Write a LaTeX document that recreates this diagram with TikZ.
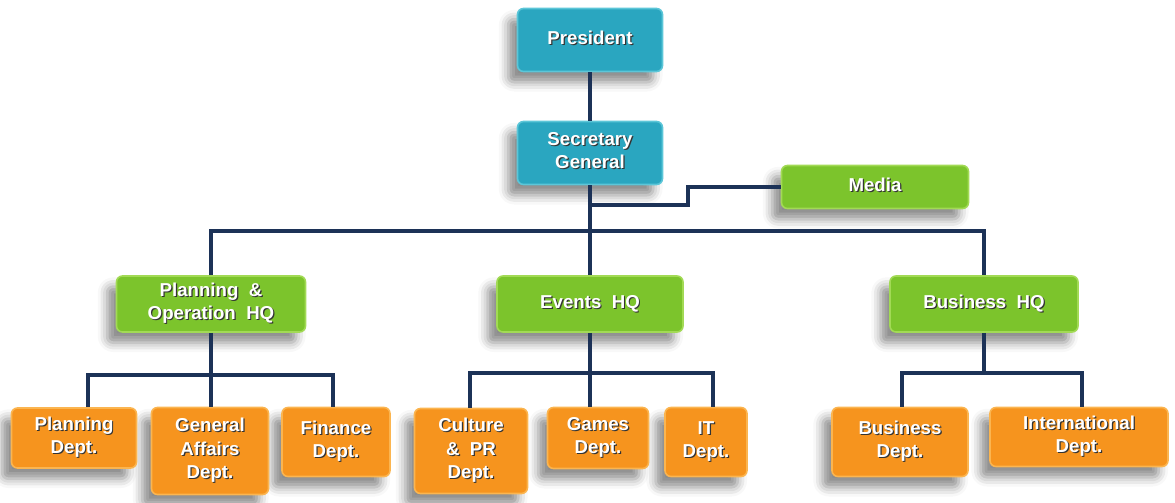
\documentclass[tikz,border=0pt]{standalone}
\usepackage{fontspec}
\setmainfont{Liberation Sans}
\usetikzlibrary{shadows.blur}
\definecolor{tealfill}{HTML}{2AA6C0}
\definecolor{tealedge}{HTML}{5CC6D8}
\definecolor{greenfill}{HTML}{7CC42C}
\definecolor{greenedge}{HTML}{A2DA55}
\definecolor{orangefill}{HTML}{F6941E}
\definecolor{orangeedge}{HTML}{FBB550}
\definecolor{navy}{HTML}{1C3257}
\newcommand\shtxt[1]{\makebox[0pt][l]{\hspace{0.9pt}\raisebox{-0.9pt}{\color{black!80}\begin{tabular}{@{}c@{}}#1\end{tabular}}}\begin{tabular}{@{}c@{}}#1\end{tabular}}
\tikzset{
  base/.style={rounded corners=4.5pt, line width=1.2pt, text=white, inner sep=0pt,
    font=\fontsize{14}{17.5}\selectfont\bfseries,
    blur shadow={shadow xshift=-7pt, shadow yshift=-8pt, shadow blur radius=7pt, shadow opacity=45}},
  tbox/.style={base, fill=tealfill, draw=tealedge},
  gbox/.style={base, fill=greenfill, draw=greenedge},
  obox/.style={base, fill=orangefill, draw=orangeedge},
  sz/.style 2 args={minimum width=#1*0.75pt, minimum height=#2*0.75pt},
  conn/.style={draw=navy, line width=2.7pt}
}
\begin{document}
\begin{tikzpicture}[x=0.75pt,y=-0.75pt]
\useasboundingbox (0,0) rectangle (1175,503);
% nodes (right to left, so that shadows fall behind neighbours)
\node[tbox, sz={145}{63}] (pres) at (590,40) {\shtxt{President}};
\node[gbox, sz={187}{43}] (media) at (875,187) {\shtxt{Media}};
\node[tbox, sz={145}{63}] (sg) at (590,153) {\shtxt{Secretary\\General}};
\node[gbox, sz={188}{56}] (bh) at (984,304) {\shtxt{Business~~HQ}};
\node[gbox, sz={186}{56}] (ev) at (590,304) {\shtxt{Events~~HQ}};
\node[gbox, sz={189}{56}] (po) at (211,304) {\shtxt{Planning~~\&\\Operation~~HQ}};
\node[obox, sz={178}{59}] (id) at (1079,437) {\shtxt{International\\Dept.}};
\node[obox, sz={136}{69}] (bd) at (900,442) {\shtxt{Business\\Dept.}};
\node[obox, sz={82}{69}] (it) at (706,442) {\shtxt{IT\\Dept.}};
\node[obox, sz={101}{61}] (gm) at (598,438) {\shtxt{Games\\Dept.}};
\node[obox, sz={113}{85}] (cu) at (471,451) {\shtxt{Culture\\\&~~PR\\Dept.}};
\node[obox, sz={108}{69}] (fd) at (336,442) {\shtxt{Finance\\Dept.}};
\node[obox, sz={117}{87}] (ga) at (210,451) {\shtxt{General\\Affairs\\Dept.}};
\node[obox, sz={125}{60}] (pd) at (74,438) {\shtxt{Planning\\Dept.}};
% junction coordinates
\coordinate (bR) at (984,231);
\coordinate (mj) at (590,205);
\coordinate (ms) at (688,205);
\coordinate (a1) at (88,375);
\coordinate (a3) at (333,375);
\coordinate (e1) at (470,373);
\coordinate (e3) at (713,373);
\coordinate (f1) at (902,373);
\coordinate (f3) at (1082,373);
% connectors
\draw[conn] (pres) -- (sg);
\draw[conn] (sg.south) -- (ev.north);
\draw[conn] (mj) -- (ms) |- (media.west);
\draw[conn] (po.north) |- (bR) -- (bh.north);
\draw[conn] (a1 |- pd.north) -- (a1) -- (a3) -- (a3 |- fd.north);
\draw[conn] (po.south) -- (po.south |- ga.north);
\draw[conn] (e1 |- cu.north) -- (e1) -- (e3) -- (e3 |- it.north);
\draw[conn] (ev.south) -- (ev.south |- gm.north);
\draw[conn] (f1 |- bd.north) -- (f1) -- (f3) -- (f3 |- id.north);
\draw[conn] (bh.south) -- (bh.south |- f1);
\end{tikzpicture}
\end{document}
